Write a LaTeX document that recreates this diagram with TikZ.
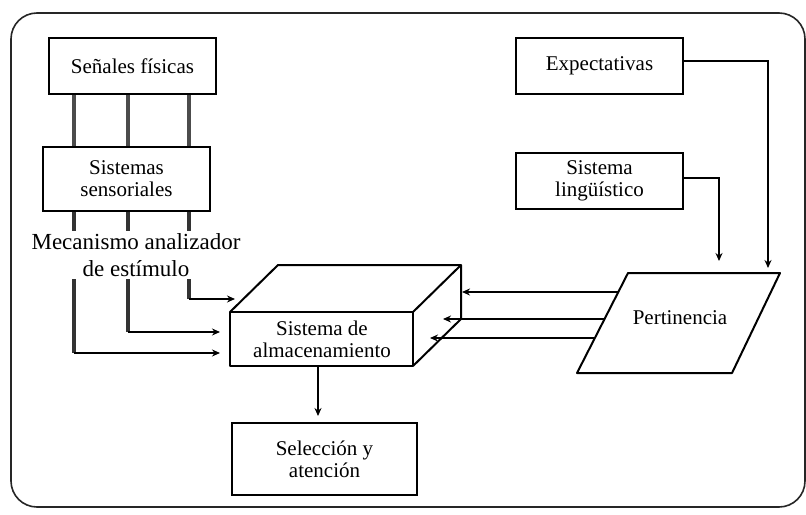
\documentclass[tikz,border=0pt]{standalone}
\usepackage{fontspec}
\setmainfont{Liberation Serif}
\usetikzlibrary{arrows.meta}
\begin{document}
\begin{tikzpicture}[x=0.5pt,y=-0.5pt,
  box/.style={draw,line width=0.8pt,minimum width=83.5pt,minimum height=28pt,inner sep=1pt,align=center,font=\fontsize{10.5}{11}\selectfont},
  feed/.style={draw=black!70,line width=1.6pt},
  conn/.style={draw,line width=1pt,-{Stealth[length=4pt,width=3.5pt]}},
  plain/.style={draw,line width=1pt},
  shape3d/.style={draw,line width=1pt,line join=round},
  lbl/.style={align=center,inner sep=0pt,font=\fontsize{10.5}{11}\selectfont}]
\useasboundingbox (0,0) rectangle (806,514);
% frame
\draw[line width=0.8pt,draw=black!85,rounded corners=13pt] (11,13) rectangle (805,507);

% boxes
\node[box] (sen) at (132.5,66) {Señales físicas};
\node[box,minimum height=32pt] (sens) at (126.5,179) {Sistemas\\sensoriales};
\node[box] (exp) at (599.5,66) {Expectativas};
\node[box] (ling) at (599.5,181) {Sistema\\lingüístico};
\node[box,minimum width=92.5pt,minimum height=36pt] (sel) at (324.5,459) {Selección y\\atención};

% columns
\coordinate (c1) at (74,0);
\coordinate (c2) at (128,0);
\coordinate (c3) at (189,0);

% 3D storage box
\coordinate (f1) at (230,312);
\coordinate (f2) at (413,312);
\coordinate (f3) at (413,366);
\coordinate (f4) at (230,366);
\coordinate (b1) at (278,265);
\coordinate (b2) at (461,265);
\coordinate (b3) at (461,319);
\draw[shape3d] (f1) rectangle (f3);
\draw[shape3d] (f1) -- (b1) -- (b2) -- (b3) -- (f3);
\draw[shape3d] (f2) -- (b2);
\node[lbl] (alm) at (322,339) {Sistema de\\almacenamiento};

% parallelogram
\coordinate (p1) at (628,273);
\coordinate (p2) at (780,273);
\coordinate (p3) at (732,373);
\coordinate (p4) at (577,373);
\draw[shape3d] (p1) -- (p2) -- (p3) -- (p4) -- cycle;
\node[lbl] (per) at (680,318) {Pertinencia};

% feeds between Señales and Sistemas sensoriales
\foreach \c in {c1,c2,c3}{
  \draw[feed] (sen.south -| \c) -- (sens.north -| \c);
}
% from sensoriales to storage
\coordinate (t1) at (235,299);
\coordinate (t2) at (220,332);
\coordinate (t3) at (220,353);
\draw[feed,draw=black!80] (sens.south -| c3) -- (c3 |- t1);
\draw[conn] (c3 |- t1) -- (t1);
\draw[feed,draw=black!80] (sens.south -| c2) -- (c2 |- t2);
\draw[conn] (c2 |- t2) -- (t2);
\draw[feed,draw=black!80] (sens.south -| c1) -- (c1 |- t3);
\draw[conn] (c1 |- t3) -- (t3);

\node[lbl,fill=white,font=\fontsize{11.5}{13.5}\selectfont,inner sep=1pt] (mec) at (136,255) {Mecanismo analizador\\de estímulo};

% from Pertinencia to storage
\coordinate (s1) at (618,292);
\coordinate (e1) at (462,292);
\coordinate (s2) at (604,319);
\coordinate (e2) at (443,319);
\coordinate (s3) at (595,338);
\coordinate (e3) at (430,338);
\draw[conn] (s1) -- (e1);
\draw[conn] (s2) -- (e2);
\draw[conn] (s3) -- (e3);

% Expectativas and linguistic system to Pertinencia
\coordinate (x1) at (768,268);
\coordinate (x2) at (719,261);
\draw[conn] ([yshift=2.5pt]exp.east) -| (x1);
\draw[conn] ([yshift=1.5pt]ling.east) -| (x2);

% storage to selection
\coordinate (d1) at (318,366);
\coordinate (d2) at (318,416);
\draw[conn] (d1) -- (d2);
\end{tikzpicture}
\end{document}
